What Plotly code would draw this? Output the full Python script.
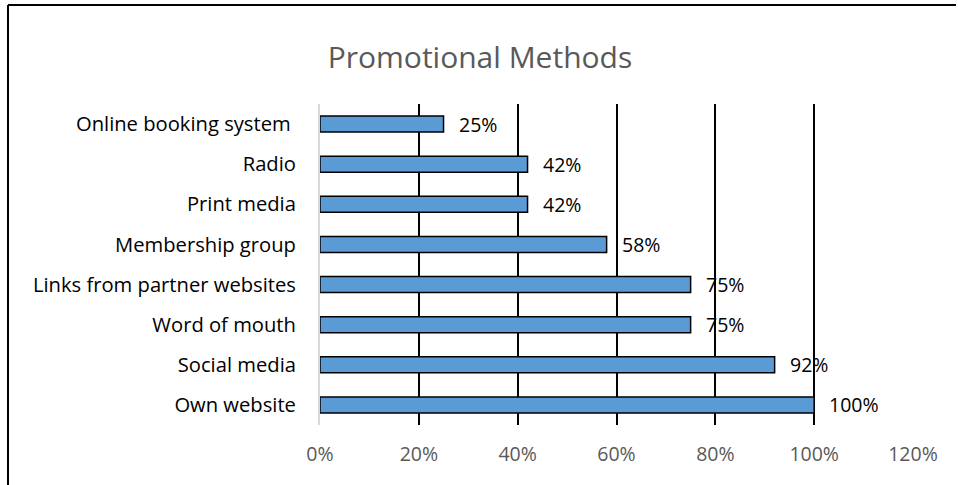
import plotly.graph_objects as go

# Share of respondents using each promotional method
methods = [
    "Own website",
    "Social media",
    "Word of mouth",
    "Links from partner websites",
    "Membership group",
    "Print media",
    "Radio",
    "Online booking system ",
]
shares = [1.00, 0.92, 0.75, 0.75, 0.58, 0.42, 0.42, 0.25]
share_labels = ["100%", "92%", "75%", "75%", "58%", "42%", "42%", "25%"]

x_ticks = [0, 0.2, 0.4, 0.6, 0.8, 1.0, 1.2]
x_tick_labels = ["0%", "20%", "40%", "60%", "80%", "100%", "120%"]

W, H = 958, 485
L, R, T, B = 320, 45, 104, 60
pw, ph = W - L - R, H - T - B
FONT = "Open Sans"

fig = go.Figure()
fig.add_trace(go.Bar(
    y=methods,
    x=shares,
    orientation="h",
    width=0.4,
    marker=dict(color="#5B9BD5", line=dict(color="#000000", width=1.5)),
    hoverinfo="skip",
))

# Value labels just past the end of each bar
for m, v, lab in zip(methods, shares, share_labels):
    fig.add_annotation(x=v, y=m, text=lab, showarrow=False,
                       xanchor="left", yanchor="middle", xshift=13,
                       font=dict(family=FONT, size=19.5, color="#000000"))

# Outer frame (top and left edges)
fx0 = (8 - L) / pw
fy_top = 1 + (T - 5) / ph
fig.add_shape(type="line", xref="paper", yref="paper",
              x0=fx0, x1=(956 - L) / pw, y0=fy_top, y1=fy_top,
              line=dict(color="#000000", width=2))
fig.add_shape(type="line", xref="paper", yref="paper",
              x0=fx0, x1=fx0, y0=fy_top, y1=-(B + 10) / ph,
              line=dict(color="#000000", width=2))

fig.update_layout(
    width=W, height=H,
    margin=dict(l=L, r=R, t=T, b=B),
    paper_bgcolor="white", plot_bgcolor="white",
    showlegend=False,
    title=dict(text="Promotional Methods", x=480 / W, xanchor="center",
               y=1 - 57 / H, yanchor="middle",
               font=dict(family=FONT, size=30, color="#595959")),
    xaxis=dict(
        range=[0, 1.2],
        tickvals=x_ticks, ticktext=x_tick_labels,
        showgrid=True, gridcolor="#000000", gridwidth=1.5,
        zeroline=False, showline=False,
        tickfont=dict(family=FONT, size=19.5, color="#595959"),
        ticks="", ticklabelstandoff=15,
        fixedrange=True,
    ),
    yaxis=dict(
        categoryorder="array", categoryarray=methods,
        showgrid=False, zeroline=False,
        showline=True, linecolor="#D9D9D9", linewidth=2,
        tickfont=dict(family=FONT, size=20.2, color="#000000"),
        ticks="", ticklabelstandoff=18,
        fixedrange=True,
    ),
)

fig.write_html("out.html")
